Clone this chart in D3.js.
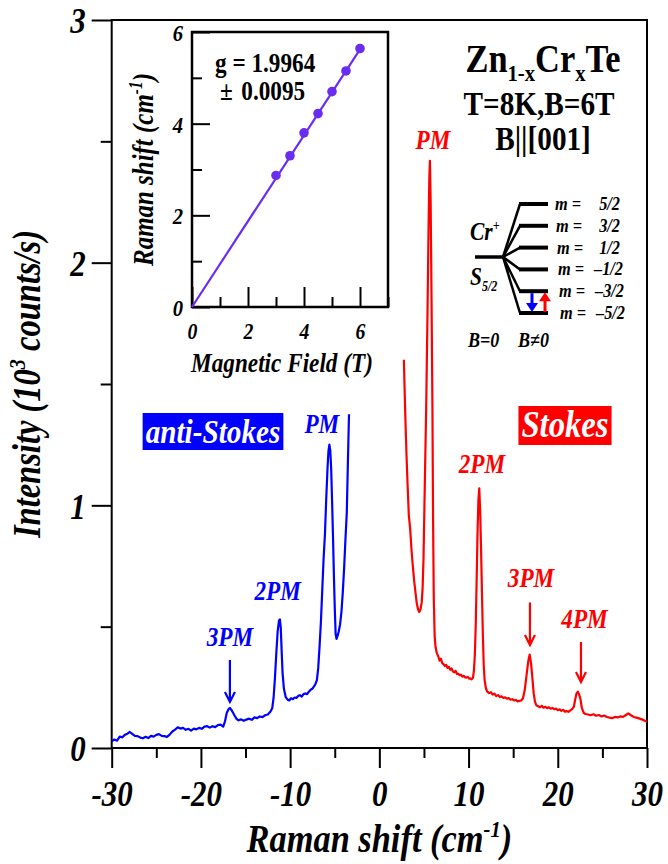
<!DOCTYPE html>
<html><head><meta charset="utf-8">
<script src="https://cdn.jsdelivr.net/npm/d3@7"></script>
<style>
body{margin:0;background:#fff}
svg{display:block}
text{font-family:"Liberation Serif","Times New Roman",serif}
</style>
</head><body><div id="chart"></div>
<script>
// ---------- data ----------
const blueShift = [-30.0,-29.7,-29.4,-29.1,-28.8,-28.5,-28.2,-28.0,-27.7,-27.4,-27.1,-26.8,-26.5,-26.2,-25.9,-25.6,-25.3,-25.0,-24.7,-24.4,-24.1,-23.8,-23.5,-23.2,-22.9,-22.6,-22.3,-22.0,-21.7,-21.4,-21.1,-20.8,-20.5,-20.2,-19.9,-19.6,-19.3,-19.0,-18.7,-18.4,-18.1,-17.8,-17.5,-17.3,-17.1,-16.9,-16.75,-16.6,-16.4,-16.2,-16.0,-15.8,-15.5,-15.2,-14.9,-14.6,-14.3,-14.0,-13.7,-13.4,-13.1,-12.8,-12.5,-12.2,-12.0,-11.85,-11.7,-11.55,-11.4,-11.25,-11.15,-11.05,-10.95,-10.85,-10.7,-10.5,-10.3,-10.1,-9.9,-9.7,-9.5,-9.3,-9.1,-8.9,-8.7,-8.5,-8.3,-8.1,-7.9,-7.7,-7.5,-7.3,-7.15,-7.0,-6.85,-6.7,-6.55,-6.4,-6.25,-6.1,-5.95,-5.8,-5.7,-5.6,-5.5,-5.4,-5.3,-5.2,-5.1,-5.0,-4.9,-4.8,-4.7,-4.55,-4.4,-4.25,-4.1,-3.95,-3.8,-3.65,-3.5,-3.4];
const blueIntensity = [0.028,0.035,0.030,0.047,0.044,0.055,0.060,0.066,0.058,0.050,0.049,0.043,0.040,0.046,0.041,0.050,0.047,0.054,0.057,0.050,0.049,0.046,0.055,0.068,0.076,0.085,0.080,0.083,0.075,0.079,0.072,0.080,0.077,0.083,0.079,0.088,0.090,0.084,0.090,0.086,0.094,0.096,0.088,0.110,0.145,0.160,0.165,0.158,0.145,0.132,0.120,0.114,0.118,0.112,0.117,0.121,0.116,0.126,0.123,0.130,0.127,0.135,0.138,0.150,0.165,0.210,0.290,0.390,0.480,0.525,0.530,0.495,0.400,0.310,0.245,0.210,0.200,0.196,0.205,0.201,0.208,0.206,0.214,0.218,0.212,0.222,0.225,0.222,0.232,0.240,0.245,0.255,0.265,0.280,0.330,0.420,0.520,0.650,0.780,0.880,1.030,1.160,1.225,1.250,1.225,1.150,1.020,0.880,0.720,0.580,0.470,0.450,0.460,0.480,0.510,0.560,0.640,0.740,0.860,0.970,1.220,1.375];

const redShift = [2.75,2.85,2.95,3.05,3.15,3.3,3.45,3.6,3.75,3.9,4.05,4.2,4.35,4.47,4.6,4.75,4.85,4.95,5.05,5.15,5.25,5.4,5.5,5.6,5.67,5.75,5.85,5.95,6.02,6.1,6.2,6.3,6.45,6.6,6.75,6.9,7.05,7.2,7.35,7.5,7.65,7.8,7.95,8.1,8.25,8.4,8.55,8.7,8.85,9.0,9.15,9.3,9.45,9.6,9.75,9.9,10.05,10.2,10.35,10.5,10.6,10.7,10.8,10.9,11.0,11.1,11.2,11.3,11.4,11.5,11.6,11.7,11.8,11.95,12.1,12.3,12.5,12.7,12.9,13.1,13.3,13.5,13.7,13.9,14.1,14.3,14.5,14.7,14.9,15.1,15.3,15.5,15.7,15.9,16.1,16.3,16.5,16.7,16.85,17.0,17.15,17.3,17.45,17.6,17.8,18.0,18.2,18.4,18.6,18.8,19.0,19.2,19.4,19.6,19.8,20.0,20.2,20.4,20.6,20.8,21.0,21.2,21.4,21.6,21.8,21.95,22.1,22.25,22.4,22.55,22.7,22.9,23.1,23.4,23.7,24.0,24.3,24.6,24.9,25.2,25.5,25.8,26.1,26.4,26.7,27.0,27.3,27.6,27.9,28.2,28.5,28.8,29.1,29.4,29.7,30.0];
const redIntensity = [1.600,1.450,1.320,1.200,1.100,0.960,0.905,0.820,0.750,0.690,0.640,0.595,0.570,0.560,0.570,0.600,0.660,0.780,0.990,1.200,1.400,1.800,2.100,2.350,2.420,2.250,1.850,1.400,0.950,0.620,0.460,0.415,0.390,0.378,0.360,0.368,0.350,0.345,0.338,0.342,0.330,0.334,0.322,0.328,0.315,0.312,0.318,0.305,0.306,0.300,0.302,0.294,0.297,0.292,0.290,0.293,0.286,0.287,0.283,0.290,0.320,0.380,0.500,0.680,0.880,1.020,1.070,0.980,0.820,0.640,0.470,0.340,0.280,0.245,0.232,0.226,0.230,0.220,0.224,0.214,0.218,0.210,0.213,0.206,0.209,0.203,0.206,0.199,0.201,0.196,0.198,0.192,0.194,0.196,0.205,0.240,0.300,0.360,0.385,0.350,0.290,0.225,0.190,0.176,0.172,0.168,0.174,0.166,0.170,0.164,0.168,0.162,0.165,0.160,0.162,0.156,0.159,0.153,0.157,0.150,0.152,0.149,0.155,0.160,0.170,0.200,0.225,0.232,0.220,0.200,0.165,0.145,0.140,0.138,0.135,0.139,0.133,0.136,0.130,0.134,0.128,0.125,0.123,0.128,0.126,0.130,0.128,0.135,0.143,0.135,0.128,0.125,0.122,0.118,0.113,0.108];

const fieldT = [3, 3.5, 4, 4.5, 5, 5.5, 6];
const zeemanShift = [2.87, 3.30, 3.80, 4.22, 4.70, 5.15, 5.64];
const fitField = [0, 6];
const fitShift = [0, 5.62];

const xTickValues = [-30,-20,-10,0,10,20,30];
const xMinorValues = [-25,-15,-5,5,15,25];
const yTickValues = [0,1,2,3];
const yMinorValues = [0.5,1.5,2.5];
const insetXTickValues = [0,2,4,6];
const insetXMinorValues = [1,3,5,7];
const insetYTickValues = [0,2,4,6];
const insetYMinorValues = [1,3,5];

// peak annotations (data coordinates)
const peakText   = ["PM","2PM","3PM","4PM","PM","2PM","3PM"];
const peakSide   = ["S","S","S","S","A","A","A"];
const peakLabelX = [6.0, 11.5, 17.0, 23.0, -6.45, -11.4, -16.75];
const peakLabelY = [2.47, 1.133, 0.663, 0.494, 1.298, 0.61, 0.42];
const arrowX     = [16.88, 22.6, -16.75];
const arrowTop   = [0.60, 0.437, 0.363];
const arrowBot   = [0.424, 0.272, 0.19];
const arrowSide  = ["S","S","A"];

const levelLabels = ["5/2","3/2","1/2","–1/2","–3/2","–5/2"];

// ---------- drawing ----------
const W = 668, H = 864;
const RED = "#ff0000", BLUE = "#0000ff", VIOLET = "#6a2cf0";
const FONT = '"Liberation Serif","Times New Roman",serif';
const SX = 0.86; // condensed look of the original typeface
const svg = d3.select("#chart").append("svg").attr("width", W).attr("height", H);
svg.append("rect").attr("width", W).attr("height", H).attr("fill", "#fff");

const x = d3.scaleLinear().domain([-30, 30]).range([111.7, 647]);
const y = d3.scaleLinear().domain([0, 3]).range([748, 20]);

svg.append("rect").attr("x", x(-30)).attr("y", y(3))
  .attr("width", x(30) - x(-30)).attr("height", y(0) - y(3))
  .attr("fill", "none").attr("stroke", "#000").attr("stroke-width", 2);

function styleAxis(g) {
  g.select(".domain").remove();
  g.selectAll("line").attr("stroke", "#000").attr("stroke-width", 2);
  g.selectAll("text").attr("font-family", FONT)
    .attr("font-weight", "bold").attr("font-style", "italic").attr("fill", "#000");
}

// main x axis
const gx = svg.append("g").attr("transform", `translate(0,${y(0)})`)
  .call(d3.axisBottom(x).tickValues(xTickValues).tickSize(20).tickFormat(d => String(d)));
styleAxis(gx);
gx.selectAll("text").attr("font-size", 36).attr("y", 58).attr("dy", null)
  .attr("transform", `scale(${SX},1)`);
const gxm = svg.append("g").attr("transform", `translate(0,${y(0)})`)
  .call(d3.axisBottom(x).tickValues(xMinorValues).tickSize(10).tickFormat(""));
styleAxis(gxm);

// main y axis
const gy = svg.append("g").attr("transform", `translate(${x(-30)},0)`)
  .call(d3.axisLeft(y).tickValues(yTickValues).tickSize(20).tickFormat(d => String(d)));
styleAxis(gy);
gy.selectAll("text").attr("font-size", 36).attr("x", -26 / SX).attr("dy", "0.36em")
  .attr("transform", `scale(${SX},1)`);
const gym = svg.append("g").attr("transform", `translate(${x(-30)},0)`)
  .call(d3.axisLeft(y).tickValues(yMinorValues).tickSize(11).tickFormat(""));
styleAxis(gym);

// axis titles
const xt = svg.append("text").attr("transform", `translate(${(x(-30) + x(30)) / 2},852) scale(${SX},1)`)
  .attr("text-anchor", "middle").attr("font-size", 40).attr("font-weight", "bold").attr("font-style", "italic");
xt.append("tspan").text("Raman shift (cm");
xt.append("tspan").attr("font-size", 24).attr("dy", -15).text("-1");
xt.append("tspan").attr("dy", 15).text(")");

const yt = svg.append("text").attr("transform", `translate(40,${(y(0) + y(3)) / 2}) rotate(-90) scale(${SX * 0.97},1)`)
  .attr("text-anchor", "middle").attr("font-size", 39).attr("font-weight", "bold").attr("font-style", "italic");
yt.append("tspan").text("Intensity (10");
yt.append("tspan").attr("font-size", 24).attr("dy", -15).text("3");
yt.append("tspan").attr("dy", 15).text(" counts/s)");

// spectra
const line = d3.line().x(d => x(d[0])).y(d => y(d[1]));
svg.append("path").datum(d3.zip(blueShift, blueIntensity))
  .attr("d", line).attr("fill", "none").attr("stroke", BLUE).attr("stroke-width", 2.2).attr("stroke-linejoin", "round");
svg.append("path").datum(d3.zip(redShift, redIntensity))
  .attr("d", line).attr("fill", "none").attr("stroke", RED).attr("stroke-width", 2.2).attr("stroke-linejoin", "round");

// peak labels
peakText.forEach((t, i) => {
  svg.append("text").attr("transform", `translate(${x(peakLabelX[i])},${y(peakLabelY[i])}) scale(${SX},1)`)
    .attr("text-anchor", "middle").attr("font-size", 27).attr("font-weight", "bold").attr("font-style", "italic")
    .attr("fill", peakSide[i] === "S" ? RED : BLUE).text(t);
});
arrowX.forEach((ax, i) => {
  const px = x(ax), y1 = y(arrowTop[i]), y2 = y(arrowBot[i]);
  svg.append("path").attr("d", `M${px},${y1}L${px},${y2}M${px - 5},${y2 - 10}L${px},${y2}L${px + 5},${y2 - 10}`)
    .attr("fill", "none").attr("stroke", arrowSide[i] === "S" ? RED : BLUE).attr("stroke-width", 2.2);
});

// labelled boxes
function boxLabel(txt, cx, baseline, size, bg, padX, top, bottom) {
  const t = svg.append("text").attr("transform", `translate(${cx},${baseline}) scale(${SX},1)`).attr("text-anchor", "middle")
    .attr("font-size", size).attr("font-weight", "bold").attr("font-style", "italic").attr("fill", "#fff").text(txt);
  const w = t.node().getComputedTextLength() * SX;
  svg.insert("rect", () => t.node()).attr("x", cx - w / 2 - padX).attr("y", top)
    .attr("width", w + 2 * padX).attr("height", bottom - top).attr("fill", bg);
}
boxLabel("anti-Stokes", 213, 443, 34, BLUE, 3, 413, 450);
boxLabel("Stokes", 565, 437, 38, RED, 3, 406, 445);

// compound title text
const tt = svg.append("g").attr("font-weight", "bold");
const t1 = tt.append("text").attr("transform", `translate(543,72) scale(${SX},1)`).attr("text-anchor", "middle").attr("font-size", 40);
t1.append("tspan").text("Zn");
t1.append("tspan").attr("font-size", 24).attr("dy", 9).text("1-x");
t1.append("tspan").attr("dy", -9).text("Cr");
t1.append("tspan").attr("font-size", 24).attr("dy", 9).text("x");
t1.append("tspan").attr("dy", -9).text("Te");
tt.append("text").attr("transform", `translate(539,115) scale(${SX},1)`).attr("text-anchor", "middle").attr("font-size", 34).text("T=8K,B=6T");
tt.append("text").attr("transform", `translate(543,150) scale(${SX},1)`).attr("text-anchor", "middle").attr("font-size", 34).text("B||[001]");

// energy level diagram (schematic, local coords)
const ed = svg.append("g").attr("transform", "translate(440,170)")
  .attr("font-weight", "bold").attr("font-style", "italic");
const levelY = d3.scalePoint().domain(levelLabels).range([34, 143]);
ed.append("line").attr("x1", 35).attr("x2", 63).attr("y1", 87).attr("y2", 87).attr("stroke", "#000").attr("stroke-width", 3.5);
levelLabels.forEach((m, i) => {
  const ly = levelY(m);
  ed.append("line").attr("x1", 63).attr("y1", 87).attr("x2", 80).attr("y2", ly).attr("stroke", "#000").attr("stroke-width", 2.5);
  ed.append("line").attr("x1", 79).attr("x2", 108).attr("y1", ly).attr("y2", ly).attr("stroke", "#000").attr("stroke-width", 4);
  ed.append("text").attr("transform", `translate(${115 + i},${ly + 6}) scale(${SX},1)`).attr("font-size", 19).text("m =");
  ed.append("text").attr("transform", `translate(${i < 3 ? 180 : 180 + i},${ly + 6}) scale(${SX},1)`).attr("text-anchor", "end").attr("font-size", 19).text(m);
});
const cr = ed.append("text").attr("transform", `translate(30,70) scale(${SX},1)`).attr("font-size", 25);
cr.append("tspan").text("Cr");
cr.append("tspan").attr("font-size", 14).attr("dy", -10).text("+");
const sTxt = ed.append("text").attr("transform", `translate(30,115) scale(${SX},1)`).attr("font-size", 25);
sTxt.append("tspan").text("S");
sTxt.append("tspan").attr("font-size", 14).attr("dy", 6).text("5/2");
ed.append("text").attr("transform", `translate(28,177) scale(${SX},1)`).attr("font-size", 21).text("B=0");
ed.append("text").attr("transform", `translate(78,177) scale(${SX},1)`).attr("font-size", 21).text("B≠0");
// transition arrows
const yA = levelY("–3/2"), yB = levelY("–5/2");
ed.append("line").attr("x1", 92).attr("x2", 92).attr("y1", yA + 2).attr("y2", yB - 8).attr("stroke", BLUE).attr("stroke-width", 3);
ed.append("path").attr("d", `M86,${yB - 10}L98,${yB - 10}L92,${yB - 1}Z`).attr("fill", BLUE);
ed.append("line").attr("x1", 105).attr("x2", 105).attr("y1", yB - 1).attr("y2", yA + 8).attr("stroke", RED).attr("stroke-width", 3);
ed.append("path").attr("d", `M99,${yA + 10}L111,${yA + 10}L105,${yA + 1}Z`).attr("fill", RED);

// ---------- inset ----------
const ix = d3.scaleLinear().domain([0, 7]).range([192, 388]);
const iy = d3.scaleLinear().domain([0, 6]).range([307, 32]);
const inset = svg.append("g");
inset.append("rect").attr("x", ix(0)).attr("y", iy(6)).attr("width", ix(7) - ix(0)).attr("height", iy(0) - iy(6))
  .attr("fill", "#fff").attr("stroke", "#000").attr("stroke-width", 2.5);
const igx = inset.append("g").attr("transform", `translate(0,${iy(0)})`)
  .call(d3.axisBottom(ix).tickValues(insetXTickValues).tickSize(-20).tickFormat(d => String(d)));
styleAxis(igx);
igx.selectAll("text").attr("font-size", 23).attr("y", 32).attr("dy", null).attr("transform", `scale(${SX},1)`);
const igxm = inset.append("g").attr("transform", `translate(0,${iy(0)})`)
  .call(d3.axisBottom(ix).tickValues(insetXMinorValues).tickSize(-10).tickFormat(""));
styleAxis(igxm);
const igy = inset.append("g").attr("transform", `translate(${ix(0)},0)`)
  .call(d3.axisLeft(iy).tickValues(insetYTickValues).tickSize(-18).tickFormat(d => String(d)));
styleAxis(igy);
igy.selectAll("text").attr("font-size", 24).attr("x", -9 / SX).attr("dy", "0.36em").attr("transform", `scale(${SX},1)`);
const igym = inset.append("g").attr("transform", `translate(${ix(0)},0)`)
  .call(d3.axisLeft(iy).tickValues(insetYMinorValues).tickSize(-10).tickFormat(""));
styleAxis(igym);

inset.append("path").datum(d3.zip(fitField, fitShift))
  .attr("d", d3.line().x(d => ix(d[0])).y(d => iy(d[1])))
  .attr("stroke", VIOLET).attr("stroke-width", 2.2).attr("fill", "none");
inset.selectAll("circle.pt").data(d3.zip(fieldT, zeemanShift)).join("circle")
  .attr("cx", d => ix(d[0])).attr("cy", d => iy(d[1])).attr("r", 4.8).attr("fill", VIOLET);

inset.append("text").attr("transform", `translate(215,72) scale(${SX},1)`).attr("font-size", 27).attr("font-weight", "bold").text("g = 1.9964");
const pm = inset.append("text").attr("transform", `translate(220,100) scale(${SX},1)`).attr("font-size", 27).attr("font-weight", "bold");
pm.append("tspan").text("±");
pm.append("tspan").attr("dx", 10).text("0.0095");

inset.append("text").attr("transform", `translate(${(ix(0) + ix(7)) / 2 - 8},372) scale(${SX},1)`).attr("text-anchor", "middle")
  .attr("font-size", 27).attr("font-weight", "bold").attr("font-style", "italic").text("Magnetic Field (T)");
const iyt = inset.append("text").attr("transform", `translate(153,${(iy(0) + iy(6)) / 2}) rotate(-90) scale(${SX},1)`)
  .attr("text-anchor", "middle").attr("font-size", 29).attr("font-weight", "bold").attr("font-style", "italic");
iyt.append("tspan").text("Raman shift (cm");
iyt.append("tspan").attr("font-size", 18).attr("dy", -11).text("-1");
iyt.append("tspan").attr("dy", 11).text(")");
</script>
</body></html>
